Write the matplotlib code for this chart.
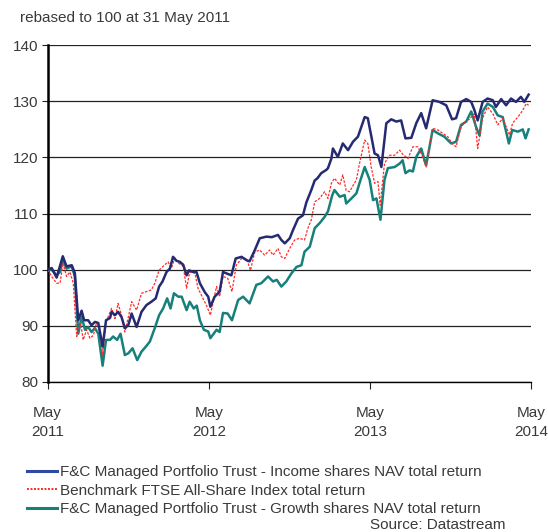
import matplotlib
matplotlib.use("Agg")
import matplotlib.pyplot as plt
from matplotlib.lines import Line2D
import numpy as np
import pandas as pd

# weeks since 31 May 2011, value rebased to 100
income_wk = [0, 1.3, 2.9, 4.9, 6.1, 7.8, 8.8, 9.9, 11, 11.8, 13.1, 14.2, 15.3, 16.4, 17.8, 18.9,
             20.2, 20.7, 21.8, 22.8, 23.9, 25, 26.1, 27.2, 28.8, 30.4, 32, 33.6, 35, 36.1, 37.2,
             38.5, 39.6, 40.6, 41.7, 42.8, 43.9, 45, 45.8, 47.1, 48.2, 49.3, 50.9, 52, 52.7, 54.1,
             55.7, 56.8, 59.5, 60.9, 62.8, 64.4, 65.4, 67.1, 68.7, 70.9, 72.6, 74.6, 75.7, 76.8,
             78.4, 79.5, 81.1, 82.7, 83.8, 85.4, 86.5, 87.4, 88.6, 90.3, 90.8, 91.9, 92.4, 94,
             95.6, 97.3, 98.9, 100.5, 102.7, 103.7, 104.8, 105.9, 107, 108.1, 109.7, 111.3, 112.9,
             114.5, 115.9, 117.8, 119.4, 121, 122.6, 124.7, 126.9, 129.1, 131, 132.3, 133.9, 135.6,
             137.2, 138.2, 139.3, 140.9, 142.5, 144.2, 145.2, 146.9, 148.5, 150.1, 151.7, 153.3,
             154.4, 155.8]
income = [100, 100.3, 98.6, 102.4, 100.6, 100.8, 99.4, 91, 92.7, 91, 91, 90.1, 90.7, 90.5, 86.3, 91,
          91.4, 92.5, 91.9, 92.5, 91.6, 89.6, 90.1, 92.2, 89.8, 92.5, 93.7, 94.3, 94.9, 97, 97.9,
          99.6, 100.2, 102.3, 101.6, 101.4, 100.9, 99, 99.9, 99.6, 99.6, 97.6, 96, 95.2, 93.4, 95.2,
          96.1, 99.6, 99, 102, 102.3, 101.7, 101.5, 103.5, 105.6, 105.9, 105.8, 106.2, 105.3, 104.7,
          105.6, 107.1, 109.1, 109.7, 112, 114.2, 115.9, 116.3, 117.2, 117.8, 118.1, 119.8, 121.6, 120.1,
          122.5, 121.3, 122.8, 123.7, 127.2, 127, 123.9, 120.7, 120.4, 118.3, 126.1, 126.8, 126.4,
          126.6, 123.4, 123.5, 126.1, 127.9, 125.2, 130.2, 129.9, 129.3, 126.8, 127, 129.9, 130.4,
          129.9, 128.5, 126.6, 129.9, 130.5, 130.2, 129, 130.4, 129.3, 130.5, 129.9, 130.8,
          129.9, 131.2]

bench_wk = [0, 1.3, 2.9, 4, 5, 6.1, 7.2, 8.3, 9.4, 10.7, 11.5, 12.6, 13.7, 14.8, 15.9, 16.9, 17.8,
            18.9, 20.7, 21.8, 22.8, 23.9, 25, 26.1, 27.2, 28.8, 30.4, 32, 33.6, 34.7, 36.1, 37.4, 39,
            40.1, 41.2, 42.3, 43.9, 45, 46, 47.7, 48.7, 50.3, 51.4, 52.7, 54.1, 54.7, 55.7, 56.8,
            58.3, 59.7, 61.1, 62.8, 64.4, 65.7, 67.1, 68.7, 70.3, 71.9, 73, 74.6, 75.7, 76.8, 78.4,
            80, 81.6, 83.2, 84.3, 85.4, 86.5, 88.1, 89.7, 90.8, 91.9, 92.9, 94.6, 95.6, 96.7, 97.8,
            98.9, 100, 101, 102.7, 103.7, 104.8, 105.9, 107, 107.7, 109.1, 110.7, 112.4, 114, 115,
            116.7, 118.3, 119.9, 121, 122.6, 124.7, 126.4, 128, 129.6, 131, 132.3, 133.9, 135.6,
            136.6, 138.2, 139.3, 140.9, 142.5, 144.2, 145.8, 147.4, 149.6, 150.6, 152.3, 153.9,
            155, 155.8]
bench = [100, 98.8, 97.6, 97.6, 101.2, 98.8, 99.6, 97.6, 88.1, 90.4, 87.5, 89.3, 87.8, 88.3, 90.7,
         88.9, 84.8, 90.7, 93.1, 91.3, 94, 91.9, 88.9, 91.5, 94.3, 92.8, 95.8, 96.1, 96.4, 97.6,
         99.9, 100.6, 101.4, 100.3, 102.1, 101.2, 100.6, 96.7, 99.6, 99.4, 96.7, 94.9, 93.7, 91.9,
         95.5, 97, 95.2, 98.8, 98.5, 96.1, 100.8, 102, 102, 99.9, 103.2, 103.5, 102.6, 103.5, 102.6,
         103.8, 102.3, 102, 103.8, 105.3, 105.6, 105.3, 107.4, 108.9, 112.1, 112.7, 113.9, 112.7,
         115.4, 116.3, 115.1, 116.9, 114.1, 113.9, 115, 116, 118.9, 123.1, 122.5, 118.3, 115.4,
         115.7, 111.5, 118.9, 120.4, 120.4, 121.3, 120.6, 119.8, 121.9, 121.9, 120.7, 118.3, 125.2,
         124.9, 124.3, 123.7, 122.5, 121.9, 125.4, 126.6, 126.8, 127.8, 121.6, 127, 129, 127.8,
         125.8, 127, 124, 126.1, 127.2, 128.4, 129.6, 129.3]

growth_wk = [0, 1.3, 2.9, 4, 4.9, 6.1, 7.8, 8.8, 9.9, 11, 12.1, 13.1, 14.2, 15.3, 16.4, 17.8, 18.9,
             20.2, 21.2, 22.5, 23.6, 25, 26.1, 27.5, 29, 30.4, 31.8, 33.1, 34.7, 36.1, 37.4, 38.7,
             39.8, 40.9, 42.3, 43.4, 45, 46, 47.3, 48.3, 49.3, 50.6, 52, 52.7, 54.7, 55.7, 56.8,
             58.3, 59.7, 61.7, 63.3, 65.4, 67.6, 69.2, 71.4, 73, 74.2, 75.7, 77.3, 78.9, 80.6, 82.2,
             83.2, 84.9, 86.5, 88.1, 89.7, 90.8, 92.2, 92.9, 94.6, 96.2, 96.7, 98.4, 100, 101, 102.7,
             104.3, 105.4, 106.5, 107.8, 109.1, 110.2, 112.4, 114, 115, 115.9, 117.2, 118.3, 119.4,
             121, 122.6, 124.7, 126.4, 128.5, 130.7, 132.3, 133.9, 135.6, 137.2, 138.8, 139.9,
             140.9, 142.5, 144.2, 145.8, 147.4, 149.4, 150.5, 152.3, 153.9, 154.8, 155.8]
growth = [100, 100, 99, 99.6, 102, 100.2, 100.6, 98.8, 88.6, 91.6, 89.3, 89.8, 88.9, 89.6, 88.6,
          82.9, 87.5, 87.5, 88.1, 87.5, 88.6, 84.8, 85.1, 86, 83.9, 85.4, 86.3, 87.2, 89.6, 91.9,
          93.1, 94.9, 93.1, 95.8, 95.2, 95.2, 92.8, 94.3, 93.1, 93.6, 91, 89.3, 89, 87.8, 89.3,
          88.9, 92.3, 92.2, 91, 94.6, 95.2, 94, 97.3, 97.6, 98.8, 97.9, 98.2, 97, 97.9, 99.3, 100.5,
          100.8, 103.2, 104.1, 107.4, 108.3, 109.4, 110.4, 113.3, 114.2, 113, 113.3, 111.8, 112.7,
          113.6, 115.4, 118.3, 116, 112.4, 112.7, 108.9, 116, 118.1, 118.3, 118.9, 119.5, 117.2,
          117.7, 117.5, 120.1, 121.6, 118.6, 124.9, 124.3, 123.7, 122.5, 122.8, 125.8, 126.4, 128.2,
          125.4, 123.9, 128.2, 129.6, 129, 127.5, 127.2, 122.5, 124.9, 124.6, 125, 123.4, 125]

labels = ["F&C Managed Portfolio Trust - Income shares NAV total return",
          "Benchmark FTSE All-Share Index total return",
          "F&C Managed Portfolio Trust - Growth shares NAV total return"]
tick_dates = ["2011-05-31", "2012-05-31", "2013-05-31", "2014-05-31"]
tick_labels = ["May\n2011", "May\n2012", "May\n2013", "May\n2014"]
y_ticks = [80, 90, 100, 110, 120, 130, 140]

start = pd.Timestamp("2011-05-31")
def to_dates(wk):
    return start + pd.to_timedelta(np.array(wk) * 7, unit="D")

navy = "#262a72"
teal = "#17807a"
red = "#ff2a2a"
txt = "#3a3a3a"

plt.rcParams["font.family"] = ["Liberation Sans", "DejaVu Sans"]
fig = plt.figure(figsize=(5.48, 5.32), dpi=100)
ax = fig.add_axes([0.087, 0.282, 0.882, 0.633])

ax.plot(to_dates(growth_wk), growth, color=teal, lw=1.8, zorder=3)
ax.plot(to_dates(bench_wk), bench, color=red, lw=0.9, ls=(0, (2, 1.2)), zorder=4)
ax.plot(to_dates(income_wk), income, color=navy, lw=1.8, zorder=5)

ax.set_ylim(80, 140)
ax.set_xlim(pd.Timestamp(tick_dates[0]), pd.Timestamp(tick_dates[-1]))
ax.set_yticks(y_ticks)
ax.set_xticks(pd.to_datetime(tick_dates))
ax.set_xticklabels(tick_labels, linespacing=1.45)
ax.grid(axis="y", color="#222222", lw=0.9)
ax.set_axisbelow(True)
for s in ["top", "right"]:
    ax.spines[s].set_visible(False)
ax.spines["left"].set_linewidth(1.8)
ax.spines["bottom"].set_linewidth(1.0)
ax.tick_params(axis="y", length=4, width=0.8, labelsize=11, colors=txt, pad=3)
ax.tick_params(axis="x", length=5, width=0.8, labelsize=11, colors=txt, pad=12)
ax.tick_params(axis="both", color="#222222")

fig.text(0.037, 0.966, "rebased to 100 at 31 May 2011", fontsize=11, color=txt, va="center")

handles = [Line2D([], [], color="#2f4aa0", lw=2.2),
           Line2D([], [], color=red, lw=1.4, ls=(0, (1, 0.8))),
           Line2D([], [], color=teal, lw=2.2)]
fig.legend(handles, labels, loc="upper left", bbox_to_anchor=(0.049, 0.126),
           frameon=False, fontsize=11, handlelength=2.0, handletextpad=0.15,
           labelspacing=0.3, borderpad=0, borderaxespad=0, labelcolor=txt)
fig.text(0.922, 0.013, "Source: Datastream", fontsize=11, color=txt, ha="right", va="center")

fig.savefig("out.png", dpi=100)
